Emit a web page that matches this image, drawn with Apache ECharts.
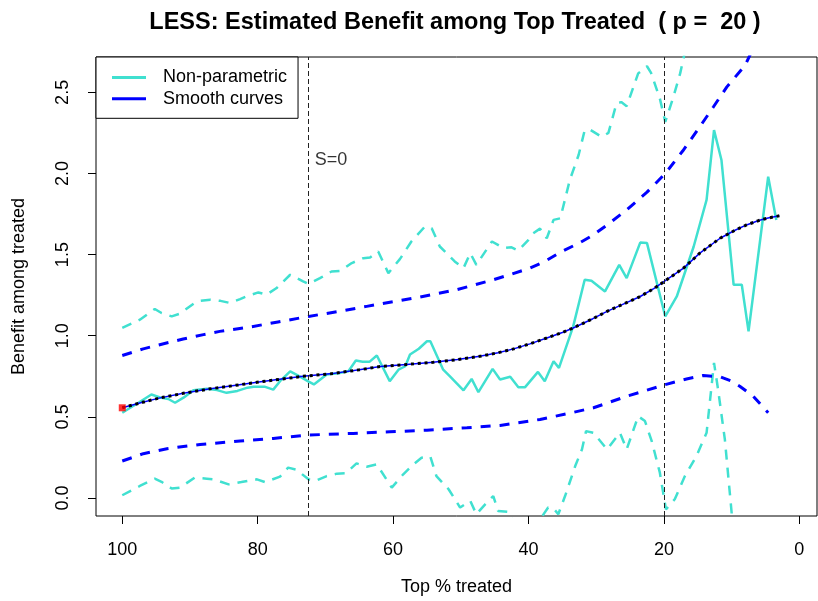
<!DOCTYPE html>
<html>
<head>
<meta charset="utf-8">
<script src="https://cdn.jsdelivr.net/npm/echarts@6/dist/echarts.min.js"></script>
<style>html,body{margin:0;padding:0;background:#fff}#c{width:818px;height:601px}</style>
</head>
<body>
<div id="c"></div>
<script>
// ---- data ----
const xTicks = [0, 20, 40, 60, 80, 100];
const yTicks = [0, 0.5, 1, 1.5, 2, 2.5];
const cutoffs = [72.6, 20];

const npX = [100,97.5,95.7,94.2,93.2,92.2,90.9,89.5,87.5,86,84.6,83,81.5,80.6,79,77.7,76.7,75.2,73.8,72.6,71.7,69.8,67.8,66.6,65.5,64.5,63.5,62.4,60.5,59.2,58.2,57.5,56.2,55,54.5,52.6,51.6,49.6,48.4,47.4,45.3,44.2,42.7,41.5,40.5,38.6,37.6,36.3,35.5,33.4,31.7,30.7,28.7,26.6,25.5,23.5,22.5,19.8,18.1,15.6,13.7,12.6,11.5,9.7,8.5,7.5,4.6,3.4];
const npY = [0.525,0.59,0.638,0.617,0.61,0.587,0.62,0.664,0.673,0.665,0.648,0.66,0.68,0.685,0.686,0.668,0.72,0.781,0.75,0.72,0.70,0.761,0.771,0.781,0.847,0.84,0.839,0.878,0.72,0.791,0.812,0.884,0.92,0.966,0.966,0.791,0.75,0.664,0.734,0.652,0.796,0.73,0.747,0.683,0.683,0.777,0.72,0.843,0.802,1.058,1.345,1.339,1.273,1.437,1.355,1.574,1.571,1.119,1.242,1.55,1.837,2.267,2.083,1.314,1.314,1.027,1.98,1.714];

const npUpX = [100,97.4,95.2,94.2,92.7,91.5,89,87,85.5,84.1,82.6,81.4,79.9,78.7,77.2,75.2,73.3,72.5,70.8,69.1,67.8,66.1,64.4,63.4,62.2,60.7,59,57.3,55.3,54.3,53.1,50.9,49.6,48.6,47.7,45.4,43.7,42.5,41.5,40,39.3,38.3,37.3,36.3,35.3,33.9,32.6,31.7,30.9,29.2,28.2,27,26.3,25.5,23.8,22.5,21.9,20.6,19.8,18.6,17.6,16.9,15.6,13.7,12.6,11.5,9.7,8.5,7.5,4.6,3.4];
const npUpY = [1.048,1.099,1.165,1.14,1.119,1.136,1.212,1.222,1.215,1.202,1.226,1.247,1.267,1.253,1.294,1.376,1.335,1.32,1.355,1.396,1.4,1.448,1.478,1.482,1.519,1.386,1.472,1.581,1.673,1.663,1.55,1.458,1.417,1.509,1.437,1.581,1.54,1.545,1.525,1.591,1.632,1.66,1.601,1.714,1.724,1.96,2.114,2.267,2.27,2.226,2.25,2.432,2.44,2.415,2.617,2.661,2.62,2.462,2.318,2.472,2.617,2.75,3.1,3.6,4.2,4.0,3.3,3.4,3.2,4.5,4.0];

const npLoX = [100,97.4,95.2,94.2,92.7,91.5,89.3,87.5,86.5,84.3,82.4,80.1,78.9,76.7,75.5,74.3,72.5,71.5,69.8,68.3,67,65.4,63.9,62.4,60.2,58.5,57,55.8,54.5,53.6,51.8,50.1,48.6,47.7,46.4,45.2,44.5,43,41.5,40,38.6,37.1,36.4,35.6,34.6,33.1,32.1,31.5,30.4,28.4,26.5,25.5,23.8,22.8,21.8,20.6,19.7,18.4,16.9,15.2,13.7,12.6,12,11,10,9.7,8.5,7.5,4.6,3.4];
const npLoY = [0.017,0.074,0.119,0.1,0.058,0.064,0.125,0.119,0.115,0.084,0.098,0.115,0.098,0.132,0.187,0.175,0.115,0.105,0.135,0.15,0.152,0.213,0.193,0.207,0.064,0.146,0.207,0.248,0.255,0.135,0.054,-0.059,-0.018,-0.1,-0.039,0.012,-0.08,-0.086,-0.2,-0.25,-0.15,-0.059,-0.06,-0.1,0.012,0.197,0.3,0.412,0.402,0.3,0.402,0.3,0.504,0.474,0.35,0.156,-0.07,-0.008,0.135,0.258,0.402,0.833,0.669,0.361,-0.09,-0.7,-0.75,-1.1,-0.5,-0.6];

const smX = [100,97,94.4,91,87,84,80.1,76.5,73.3,69.3,65,61.9,58,54.1,50.5,47.2,44.5,42.2,39.8,37.3,35,33.4,30.5,28.4,26,23.5,21.5,19.8,17.1,14.7,11.7,9.5,7.8,6,4.8,2.95];
const smY = [0.556,0.59,0.617,0.645,0.673,0.69,0.713,0.733,0.75,0.765,0.79,0.81,0.823,0.836,0.853,0.873,0.895,0.919,0.95,0.986,1.02,1.048,1.105,1.15,1.195,1.242,1.29,1.339,1.417,1.509,1.601,1.65,1.683,1.71,1.724,1.739];

const smUpX = [100,96.9,93.9,91,88,85.6,81.1,77,72.5,68,63.9,60,56,50.6,45.2,42.5,39.8,37.5,35.3,32.4,30.4,28,25.5,22.5,19.8,17.2,14.7,12.7,10.7,8,6.5,4.8,2.95];
const smUpY = [0.878,0.919,0.951,0.98,1.007,1.027,1.054,1.085,1.119,1.15,1.181,1.21,1.239,1.284,1.345,1.38,1.417,1.46,1.515,1.574,1.622,1.695,1.776,1.885,2.0,2.14,2.288,2.41,2.534,2.667,2.8,2.95,3.1];

const smLoX = [100,96.9,93.4,88.5,82.6,77.7,72.5,65.9,60.5,55,49.1,44.2,38.3,34.1,30.4,25.5,19.8,16.5,14.2,11.7,10,8.8,6.8,4.6];
const smLoY = [0.228,0.273,0.304,0.33,0.351,0.367,0.388,0.398,0.408,0.418,0.433,0.447,0.484,0.521,0.556,0.627,0.699,0.735,0.755,0.747,0.72,0.689,0.627,0.525];

const startPoint = [100, 0.556];
const s0Label = [72.6, 2.083];

// ---- chart ----
const zip = (xs, ys) => xs.map((x, i) => [x, ys[i]]);
const TURQ = '#40E0D0', BLUE = '#0000FF';
const FONT = '"Liberation Sans", Arial, sans-serif';

const chart = echarts.init(document.getElementById('c'), null, {renderer: 'canvas'});
chart.setOption({
  animation: false,
  backgroundColor: '#fff',
  title: {
    text: 'LESS: Estimated Benefit among Top Treated  ( p =  20 )',
    left: 450, top: 6, textAlign: 'center',
    textStyle: {fontFamily: FONT, fontSize: 23.5, fontWeight: 'bold', color: '#000'}
  },
  legend: {
    orient: 'vertical', left: 96, top: 57,
    data: ['Non-parametric', 'Smooth curves'],
    icon: 'rect', itemWidth: 34, itemHeight: 3, itemGap: 3.3,
    padding: [11.5, 11, 10.5, 16],
    backgroundColor: '#fff', borderColor: '#000', borderWidth: 1, borderRadius: 0,
    textStyle: {fontFamily: FONT, fontSize: 18, color: '#000', lineHeight: 18, padding: [0, 0, 0, 12]}
  },
  grid: {left: 96, top: 57, width: 721, height: 460, show: true, borderColor: '#000', borderWidth: 1, backgroundColor: 'transparent'},
  xAxis: {
    type: 'value', inverse: true, min: -2.61, max: 103.88,
    name: 'Top % treated', nameLocation: 'middle', nameGap: 62,
    nameTextStyle: {fontFamily: FONT, fontSize: 18, color: '#000'},
    splitLine: {show: false}, axisLine: {show: false, onZero: false},
    axisTick: {show: true, customValues: xTicks, length: 8, lineStyle: {color: '#000'}},
    axisLabel: {customValues: xTicks, margin: 25, fontFamily: FONT, fontSize: 18, color: '#000'}
  },
  yAxis: {
    type: 'value', min: -0.111, max: 2.718,
    name: 'Benefit among treated', nameLocation: 'middle', nameGap: 68,
    nameTextStyle: {fontFamily: FONT, fontSize: 18, color: '#000'},
    splitLine: {show: false}, axisLine: {show: false, onZero: false},
    axisTick: {show: true, customValues: yTicks, length: 8, lineStyle: {color: '#000'}},
    axisLabel: {customValues: yTicks, rotate: 90, margin: 24, fontFamily: FONT, fontSize: 18, color: '#000',
      formatter: v => v.toFixed(1)}
  },
  series: [
    {name: 'NP upper', type: 'line', data: zip(npUpX, npUpY), symbol: 'none', clip: true,
      lineStyle: {color: TURQ, width: 2.5, type: [10, 8]}, itemStyle: {color: TURQ}},
    {name: 'NP lower', type: 'line', data: zip(npLoX, npLoY), symbol: 'none', clip: true,
      lineStyle: {color: TURQ, width: 2.5, type: [10, 8]}, itemStyle: {color: TURQ}},
    {name: 'Non-parametric', type: 'line', data: zip(npX, npY), symbol: 'none', clip: true,
      lineStyle: {color: TURQ, width: 2.5}, itemStyle: {color: TURQ}},
    {name: 'Smooth upper', type: 'line', data: zip(smUpX, smUpY), symbol: 'none', clip: true,
      lineStyle: {color: BLUE, width: 3, type: [10, 9]}, itemStyle: {color: BLUE}},
    {name: 'Smooth lower', type: 'line', data: zip(smLoX, smLoY), symbol: 'none', clip: true,
      lineStyle: {color: BLUE, width: 3, type: [10, 9]}, itemStyle: {color: BLUE}},
    {name: 'Smooth curves', type: 'line', data: zip(smX, smY), symbol: 'none', clip: true,
      lineStyle: {color: BLUE, width: 1.5}, itemStyle: {color: BLUE}},
    {name: 'Smooth dotted', type: 'line', data: zip(smX, smY), symbol: 'none', clip: true, z: 3,
      lineStyle: {color: '#000', width: 3, type: [3, 3.8], cap: 'butt'}, itemStyle: {color: '#000'}},
    {name: 'cutoffs', type: 'line', data: [], symbol: 'none',
      markLine: {silent: true, symbol: 'none', label: {show: false},
        lineStyle: {color: '#222', width: 1, type: [5, 3]},
        data: cutoffs.map(v => ({xAxis: v}))}},
    {name: 'start', type: 'scatter', data: [startPoint], symbol: 'rect', symbolSize: 7, z: 5,
      itemStyle: {color: '#FF0000'}},
    {name: 'S0', type: 'scatter', data: [s0Label], symbolSize: 0, z: 5,
      label: {show: true, position: 'right', distance: 7, formatter: 'S=0', fontFamily: FONT, fontSize: 18, color: '#000'}}
  ]
});
</script>
</body>
</html>
